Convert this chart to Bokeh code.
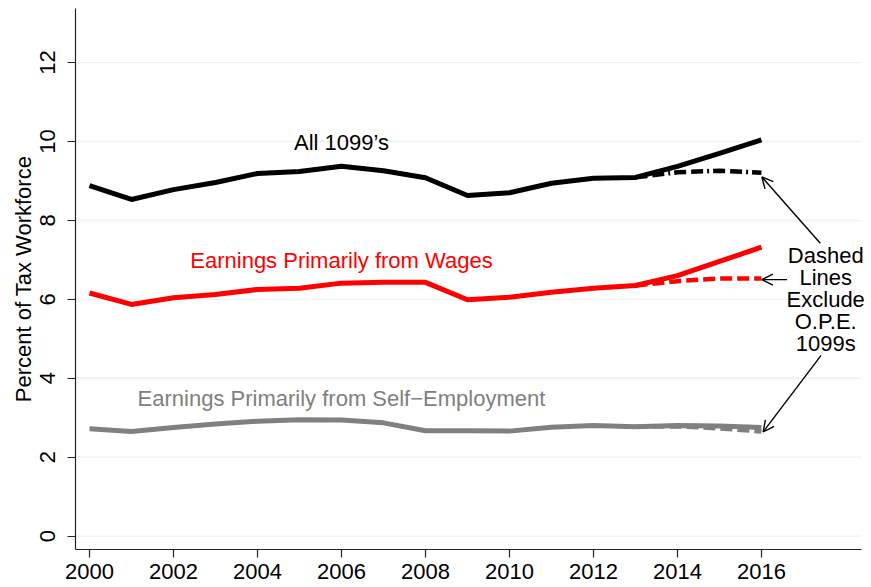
from bokeh.plotting import figure
from bokeh.models import Range1d, FixedTicker, Label, Arrow, OpenHead
from bokeh.embed import file_html
from bokeh.resources import INLINE

# ---- data ----
years = [2000, 2001, 2002, 2003, 2004, 2005, 2006, 2007, 2008,
         2009, 2010, 2011, 2012, 2013, 2014, 2015, 2016]
all_1099 = [8.88, 8.53, 8.78, 8.96, 9.19, 9.24, 9.37, 9.26, 9.08,
            8.63, 8.70, 8.94, 9.07, 9.09, 9.37, 9.70, 10.04]
wages = [6.16, 5.87, 6.04, 6.12, 6.25, 6.28, 6.41, 6.43, 6.43,
         5.99, 6.05, 6.18, 6.28, 6.35, 6.60, 6.96, 7.32]
self_emp = [2.72, 2.65, 2.75, 2.84, 2.91, 2.95, 2.94, 2.87, 2.67,
            2.67, 2.66, 2.76, 2.80, 2.77, 2.80, 2.79, 2.75]

years_ex = [2013, 2014, 2015, 2016]
all_1099_ex = [9.09, 9.22, 9.26, 9.21]
wages_ex = [6.35, 6.46, 6.53, 6.53]
self_emp_ex = [2.77, 2.78, 2.73, 2.65]

x_ticks = [2000, 2002, 2004, 2006, 2008, 2010, 2012, 2014, 2016]
y_ticks = [0, 2, 4, 6, 8, 10, 12]

FONT = "Liberation Sans"
RED = "#FF0000"
GRAY = "#808080"

X_LO, X_AXIS_HI, X_HI = 1999.667, 2018.38, 2018.62

p = figure(frame_width=796, frame_height=541, output_backend="svg",
           toolbar_location=None,
           x_range=Range1d(X_LO, X_HI), y_range=Range1d(-0.34, 13.37),
           min_border_left=75, min_border_right=0, min_border_top=8,
           min_border_bottom=38)
p.outline_line_color = None
p.background_fill_color = "white"
p.border_fill_color = "white"

# grid (drawn as segments so it stops where the x axis ends)
p.xgrid.visible = False
p.ygrid.visible = False
p.segment(x0=[X_LO] * len(y_ticks), x1=[X_AXIS_HI] * len(y_ticks),
          y0=y_ticks, y1=y_ticks, line_color="#EAF2F3", line_width=1.3)

# axes
for ax in (p.xaxis[0], p.yaxis[0]):
    ax.axis_line_color = "#222222"
    ax.axis_line_width = 1.2
    ax.major_tick_line_color = "#222222"
    ax.major_tick_line_width = 1.2
    ax.major_tick_out = 8
    ax.major_tick_in = 0
    ax.minor_tick_out = 0
    ax.minor_tick_in = 0
    ax.major_label_text_font = FONT
    ax.major_label_text_font_size = "22px"
    ax.major_label_text_color = "black"
    ax.major_label_text_line_height = 1.0

p.xaxis.ticker = FixedTicker(ticks=x_ticks)
p.xaxis.bounds = (X_LO, X_AXIS_HI)
p.xaxis.major_label_standoff = 6
p.yaxis.ticker = FixedTicker(ticks=y_ticks)
p.yaxis.major_label_orientation = "parallel"
p.yaxis.major_label_standoff = 12
p.yaxis.axis_label = "Percent of Tax Workforce"
p.yaxis.axis_label_text_font = FONT
p.yaxis.axis_label_text_font_size = "22px"
p.yaxis.axis_label_text_font_style = "normal"
p.yaxis.axis_label_text_color = "black"
p.yaxis.axis_label_standoff = 2

# lines
p.line(years, all_1099, line_color="black", line_width=5)
p.line(years, wages, line_color=RED, line_width=5)
p.line(years, self_emp, line_color=GRAY, line_width=5)
p.line(years_ex, all_1099_ex, line_color="black", line_width=4.5, line_dash="12 5 12 4 2 4")
p.line(years_ex, wages_ex, line_color=RED, line_width=4.5, line_dash="12 5")
p.line(years_ex, self_emp_ex, line_color=GRAY, line_width=4.5, line_dash="12 5")

# series labels
def lab(x, y, text, color, **kw):
    p.add_layout(Label(x=x, y=y, text=text, text_color=color, text_font=FONT,
                       text_font_size="22px", text_align="center",
                       text_baseline="middle", **kw))

lab(2006.0, 9.97, "All 1099\u2019s", "black")
lab(2006.0, 6.98, "Earnings Primarily from Wages", RED)
lab(2006.0, 3.48, "Earnings Primarily from Self\u2212Employment", GRAY)

note = ["Dashed", "Lines", "Exclude", "O.P.E.", "1099s"]
for i, t in enumerate(note):
    lab(2017.53, 7.11, t, "black", y_offset=-22 * i)

# arrows
def arr(x0, y0, x1, y1):
    p.add_layout(Arrow(end=OpenHead(size=11, line_width=1.4, line_color="black"),
                       x_start=x0, y_start=y0, x_end=x1, y_end=y1,
                       line_width=1.4, line_color="black"))

arr(2017.40, 7.42, 2016.01, 9.10)
arr(2016.61, 6.50, 2016.01, 6.50)
arr(2017.42, 4.58, 2016.04, 2.64)

open("out.html", "w").write(file_html(p, INLINE))
